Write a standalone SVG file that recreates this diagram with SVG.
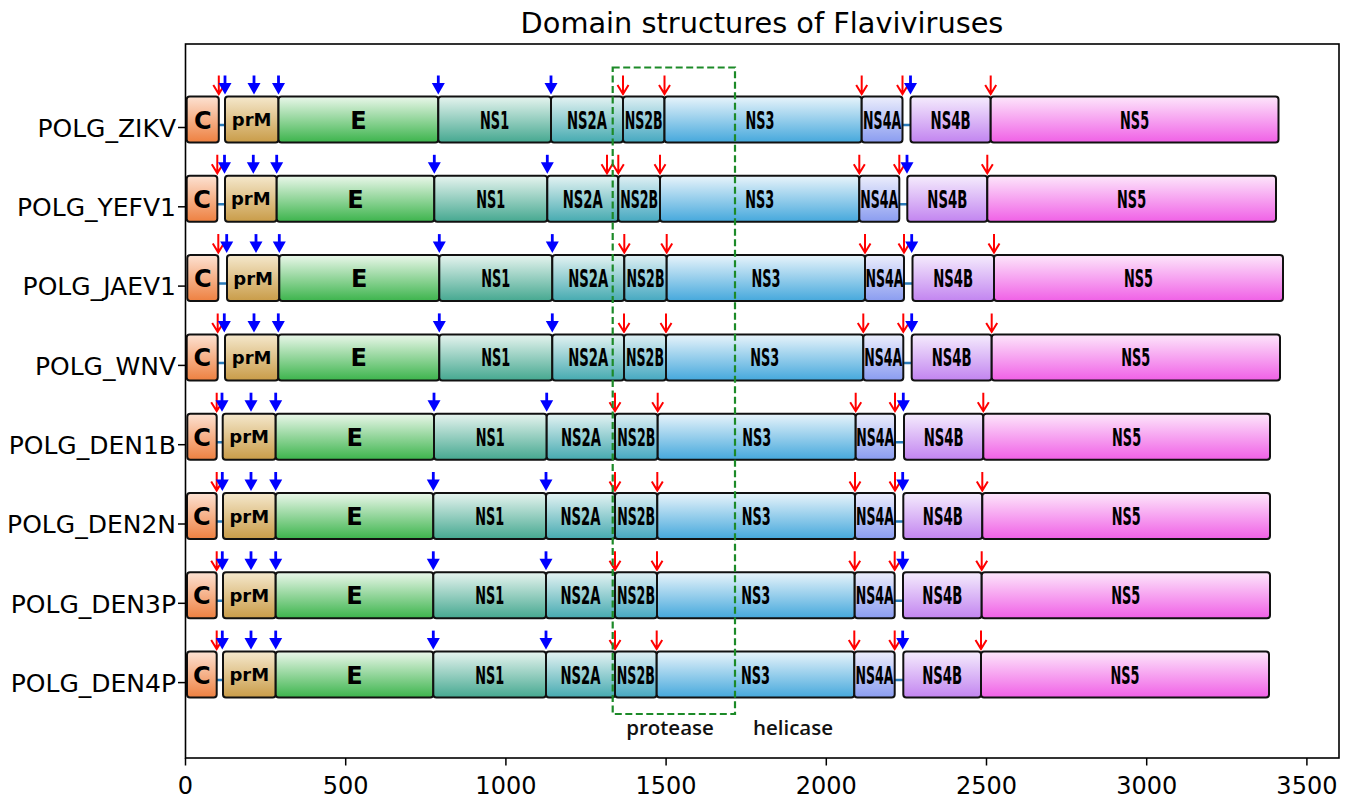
<svg xmlns="http://www.w3.org/2000/svg" xmlns:xlink="http://www.w3.org/1999/xlink" width="1350" height="799" viewBox="0 0 1350 799">
<defs>
<linearGradient id="gC" x1="0" y1="0" x2="0" y2="1"><stop offset="0" stop-color="#fde2d2"/><stop offset="1" stop-color="#ee8040"/></linearGradient>
<linearGradient id="gprM" x1="0" y1="0" x2="0" y2="1"><stop offset="0" stop-color="#f5e8cc"/><stop offset="1" stop-color="#c99c48"/></linearGradient>
<linearGradient id="gE" x1="0" y1="0" x2="0" y2="1"><stop offset="0" stop-color="#eaf7ea"/><stop offset="1" stop-color="#3cb44c"/></linearGradient>
<linearGradient id="gNS1" x1="0" y1="0" x2="0" y2="1"><stop offset="0" stop-color="#e6f4ef"/><stop offset="1" stop-color="#45a890"/></linearGradient>
<linearGradient id="gNS2A" x1="0" y1="0" x2="0" y2="1"><stop offset="0" stop-color="#e4f3f3"/><stop offset="1" stop-color="#45aab0"/></linearGradient>
<linearGradient id="gNS2B" x1="0" y1="0" x2="0" y2="1"><stop offset="0" stop-color="#dff0f4"/><stop offset="1" stop-color="#45a8c0"/></linearGradient>
<linearGradient id="gNS3" x1="0" y1="0" x2="0" y2="1"><stop offset="0" stop-color="#e8f4fb"/><stop offset="1" stop-color="#45a8dc"/></linearGradient>
<linearGradient id="gNS4A" x1="0" y1="0" x2="0" y2="1"><stop offset="0" stop-color="#eceefc"/><stop offset="1" stop-color="#8a9cf0"/></linearGradient>
<linearGradient id="gNS4B" x1="0" y1="0" x2="0" y2="1"><stop offset="0" stop-color="#f5ecfd"/><stop offset="1" stop-color="#c284f0"/></linearGradient>
<linearGradient id="gNS5" x1="0" y1="0" x2="0" y2="1"><stop offset="0" stop-color="#fde6fb"/><stop offset="1" stop-color="#f060e6"/></linearGradient>
<g id="ra"><path d="M0,-19 V-0.5 M-5.5,-9.5 L0,-0.5 L5.5,-9.5" fill="none" stroke="#ff0000" stroke-width="2"/></g>
<g id="ba"><path d="M0,-19 V-9" stroke="#0000ff" stroke-width="2.8"/><polygon points="-6.5,-11.5 6.5,-11.5 0,0" fill="#0000ff"/></g>
</defs>
<style>
.bar{stroke:#111;stroke-width:2}
.cC{fill:url(#gC)}.cprM{fill:url(#gprM)}.cE{fill:url(#gE)}.cNS1{fill:url(#gNS1)}.cNS2A{fill:url(#gNS2A)}.cNS2B{fill:url(#gNS2B)}.cNS3{fill:url(#gNS3)}.cNS4A{fill:url(#gNS4A)}.cNS4B{fill:url(#gNS4B)}.cNS5{fill:url(#gNS5)}
.dl{font-family:"DejaVu Sans",sans-serif;font-weight:bold;font-size:24px;text-anchor:middle;fill:#000}
.dm{font-family:"DejaVu Sans",sans-serif;font-weight:bold;font-size:18px;text-anchor:middle;fill:#000}
.yl{font-family:"DejaVu Sans",sans-serif;font-size:25px;text-anchor:end;fill:#000}
.xl{font-family:"DejaVu Sans",sans-serif;font-size:24px;text-anchor:middle;fill:#000}
.tk{stroke:#000;stroke-width:1.5}
.pl{stroke:#2a7ab8;stroke-width:2.5}
.an{font-family:"Open Sans",sans-serif;font-weight:600;font-size:20.5px;text-anchor:middle;fill:#111}
</style>
<rect x="0" y="0" width="1350" height="799" fill="#fff"/>
<text x="762" y="33" style="font-family:'DejaVu Sans',sans-serif;font-size:28.8px;text-anchor:middle">Domain structures of Flaviviruses</text>

<g id="connectors">
<line class="pl" x1="187" y1="125" x2="1278" y2="125"/>
<line class="pl" x1="187" y1="204.3" x2="1276" y2="204.3"/>
<line class="pl" x1="187" y1="283.6" x2="1283" y2="283.6"/>
<line class="pl" x1="187" y1="362.9" x2="1280" y2="362.9"/>
<line class="pl" x1="187" y1="442.2" x2="1270" y2="442.2"/>
<line class="pl" x1="187" y1="521.5" x2="1270" y2="521.5"/>
<line class="pl" x1="187" y1="600.8" x2="1270" y2="600.8"/>
<line class="pl" x1="187" y1="680.1" x2="1269" y2="680.1"/>
</g>

<g id="row-ZIKV" transform="translate(0,119.5)">
<g id="ZIKV-C"><rect class="bar cC" x="186.7" y="-23" width="32.1" height="46" rx="3"/><text class="dl" x="202.7" y="9">C</text></g>
<g id="ZIKV-prM"><rect class="bar cprM" x="225" y="-23" width="53.5" height="46" rx="3"/><text class="dm" x="251.7" y="6.5">prM</text></g>
<g id="ZIKV-E"><rect class="bar cE" x="278.5" y="-23" width="159.8" height="46" rx="3"/><text class="dl" x="358.4" y="9">E</text></g>
<g id="ZIKV-NS1"><rect class="bar cNS1" x="438.3" y="-23" width="112.7" height="46" rx="3"/><text class="dl" x="494.6" y="9" textLength="29" lengthAdjust="spacingAndGlyphs">NS1</text></g>
<g id="ZIKV-NS2A"><rect class="bar cNS2A" x="551" y="-23" width="72" height="46" rx="3"/><text class="dl" x="587" y="9" textLength="40" lengthAdjust="spacingAndGlyphs">NS2A</text></g>
<g id="ZIKV-NS2B"><rect class="bar cNS2B" x="623" y="-23" width="41.5" height="46" rx="3"/><text class="dl" x="643.7" y="9" textLength="38" lengthAdjust="spacingAndGlyphs">NS2B</text></g>
<g id="ZIKV-NS3"><rect class="bar cNS3" x="664.5" y="-23" width="197.2" height="46" rx="3"/><text class="dl" x="760" y="9" textLength="29" lengthAdjust="spacingAndGlyphs">NS3</text></g>
<g id="ZIKV-NS4A"><rect class="bar cNS4A" x="861.7" y="-23" width="40.8" height="46" rx="3"/><text class="dl" x="882.1" y="9" textLength="38" lengthAdjust="spacingAndGlyphs">NS4A</text></g>
<g id="ZIKV-NS4B"><rect class="bar cNS4B" x="910.5" y="-23" width="80.2" height="46" rx="3"/><text class="dl" x="950.6" y="9" textLength="40" lengthAdjust="spacingAndGlyphs">NS4B</text></g>
<g id="ZIKV-NS5"><rect class="bar cNS5" x="990.7" y="-23" width="287.8" height="46" rx="3"/><text class="dl" x="1134.6" y="9" textLength="29" lengthAdjust="spacingAndGlyphs">NS5</text></g>
<use href="#ra" x="218.8" y="-25"/><use href="#ra" x="623" y="-25"/><use href="#ra" x="664.5" y="-25"/><use href="#ra" x="861.7" y="-25"/><use href="#ra" x="902.5" y="-25"/><use href="#ra" x="990.7" y="-25"/>
<use href="#ba" x="225" y="-25"/><use href="#ba" x="254" y="-25"/><use href="#ba" x="278.5" y="-25"/><use href="#ba" x="438.3" y="-25"/><use href="#ba" x="551" y="-25"/><use href="#ba" x="910.5" y="-25"/>
</g>

<g id="row-YEFV1" transform="translate(0,198.8)">
<g id="YEFV1-C"><rect class="bar cC" x="186.7" y="-23" width="30.6" height="46" rx="3"/><text class="dl" x="202" y="9">C</text></g>
<g id="YEFV1-prM"><rect class="bar cprM" x="225" y="-23" width="51.7" height="46" rx="3"/><text class="dm" x="250.8" y="6.5">prM</text></g>
<g id="YEFV1-E"><rect class="bar cE" x="276.7" y="-23" width="157.6" height="46" rx="3"/><text class="dl" x="355.5" y="9">E</text></g>
<g id="YEFV1-NS1"><rect class="bar cNS1" x="434.3" y="-23" width="113" height="46" rx="3"/><text class="dl" x="490.8" y="9" textLength="29" lengthAdjust="spacingAndGlyphs">NS1</text></g>
<g id="YEFV1-NS2A"><rect class="bar cNS2A" x="547.3" y="-23" width="71" height="46" rx="3"/><text class="dl" x="582.8" y="9" textLength="40" lengthAdjust="spacingAndGlyphs">NS2A</text></g>
<g id="YEFV1-NS2B"><rect class="bar cNS2B" x="618.3" y="-23" width="41.7" height="46" rx="3"/><text class="dl" x="639.2" y="9" textLength="38" lengthAdjust="spacingAndGlyphs">NS2B</text></g>
<g id="YEFV1-NS3"><rect class="bar cNS3" x="660" y="-23" width="199.3" height="46" rx="3"/><text class="dl" x="759.7" y="9" textLength="29" lengthAdjust="spacingAndGlyphs">NS3</text></g>
<g id="YEFV1-NS4A"><rect class="bar cNS4A" x="859.3" y="-23" width="40" height="46" rx="3"/><text class="dl" x="879.3" y="9" textLength="38" lengthAdjust="spacingAndGlyphs">NS4A</text></g>
<g id="YEFV1-NS4B"><rect class="bar cNS4B" x="907.3" y="-23" width="80" height="46" rx="3"/><text class="dl" x="947.3" y="9" textLength="40" lengthAdjust="spacingAndGlyphs">NS4B</text></g>
<g id="YEFV1-NS5"><rect class="bar cNS5" x="987.3" y="-23" width="288.7" height="46" rx="3"/><text class="dl" x="1131.6" y="9" textLength="29" lengthAdjust="spacingAndGlyphs">NS5</text></g>
<use href="#ra" x="217.3" y="-25"/><use href="#ra" x="607" y="-25"/><use href="#ra" x="618.3" y="-25"/><use href="#ra" x="660" y="-25"/><use href="#ra" x="859.3" y="-25"/><use href="#ra" x="899.3" y="-25"/><use href="#ra" x="987.3" y="-25"/>
<use href="#ba" x="224.5" y="-25"/><use href="#ba" x="253.3" y="-25"/><use href="#ba" x="276.7" y="-25"/><use href="#ba" x="434.3" y="-25"/><use href="#ba" x="547.3" y="-25"/><use href="#ba" x="907" y="-25"/>
</g>

<g id="row-JAEV1" transform="translate(0,278.1)">
<g id="JAEV1-C"><rect class="bar cC" x="187.3" y="-23" width="31" height="46" rx="3"/><text class="dl" x="202.8" y="9">C</text></g>
<g id="JAEV1-prM"><rect class="bar cprM" x="227" y="-23" width="52.3" height="46" rx="3"/><text class="dm" x="253.2" y="6.5">prM</text></g>
<g id="JAEV1-E"><rect class="bar cE" x="279.3" y="-23" width="160" height="46" rx="3"/><text class="dl" x="359.3" y="9">E</text></g>
<g id="JAEV1-NS1"><rect class="bar cNS1" x="439.3" y="-23" width="113" height="46" rx="3"/><text class="dl" x="495.8" y="9" textLength="29" lengthAdjust="spacingAndGlyphs">NS1</text></g>
<g id="JAEV1-NS2A"><rect class="bar cNS2A" x="552.3" y="-23" width="72" height="46" rx="3"/><text class="dl" x="588.3" y="9" textLength="40" lengthAdjust="spacingAndGlyphs">NS2A</text></g>
<g id="JAEV1-NS2B"><rect class="bar cNS2B" x="624.3" y="-23" width="42.4" height="46" rx="3"/><text class="dl" x="645.5" y="9" textLength="38" lengthAdjust="spacingAndGlyphs">NS2B</text></g>
<g id="JAEV1-NS3"><rect class="bar cNS3" x="666.7" y="-23" width="198.3" height="46" rx="3"/><text class="dl" x="766" y="9" textLength="29" lengthAdjust="spacingAndGlyphs">NS3</text></g>
<g id="JAEV1-NS4A"><rect class="bar cNS4A" x="865" y="-23" width="39" height="46" rx="3"/><text class="dl" x="884.5" y="9" textLength="38" lengthAdjust="spacingAndGlyphs">NS4A</text></g>
<g id="JAEV1-NS4B"><rect class="bar cNS4B" x="912.5" y="-23" width="81.5" height="46" rx="3"/><text class="dl" x="953.2" y="9" textLength="40" lengthAdjust="spacingAndGlyphs">NS4B</text></g>
<g id="JAEV1-NS5"><rect class="bar cNS5" x="994" y="-23" width="289" height="46" rx="3"/><text class="dl" x="1138.5" y="9" textLength="29" lengthAdjust="spacingAndGlyphs">NS5</text></g>
<use href="#ra" x="218.3" y="-25"/><use href="#ra" x="624.3" y="-25"/><use href="#ra" x="666.7" y="-25"/><use href="#ra" x="865" y="-25"/><use href="#ra" x="904" y="-25"/><use href="#ra" x="994" y="-25"/>
<use href="#ba" x="226.7" y="-25"/><use href="#ba" x="256" y="-25"/><use href="#ba" x="279.3" y="-25"/><use href="#ba" x="439.3" y="-25"/><use href="#ba" x="552.3" y="-25"/><use href="#ba" x="911.7" y="-25"/>
</g>

<g id="row-WNV" transform="translate(0,357.4)">
<g id="WNV-C"><rect class="bar cC" x="186.7" y="-23" width="31" height="46" rx="3"/><text class="dl" x="202.2" y="9">C</text></g>
<g id="WNV-prM"><rect class="bar cprM" x="225" y="-23" width="53.3" height="46" rx="3"/><text class="dm" x="251.7" y="6.5">prM</text></g>
<g id="WNV-E"><rect class="bar cE" x="278.3" y="-23" width="161" height="46" rx="3"/><text class="dl" x="358.8" y="9">E</text></g>
<g id="WNV-NS1"><rect class="bar cNS1" x="439.3" y="-23" width="113" height="46" rx="3"/><text class="dl" x="495.8" y="9" textLength="29" lengthAdjust="spacingAndGlyphs">NS1</text></g>
<g id="WNV-NS2A"><rect class="bar cNS2A" x="552.3" y="-23" width="71.7" height="46" rx="3"/><text class="dl" x="588.2" y="9" textLength="40" lengthAdjust="spacingAndGlyphs">NS2A</text></g>
<g id="WNV-NS2B"><rect class="bar cNS2B" x="624" y="-23" width="42" height="46" rx="3"/><text class="dl" x="645" y="9" textLength="38" lengthAdjust="spacingAndGlyphs">NS2B</text></g>
<g id="WNV-NS3"><rect class="bar cNS3" x="666" y="-23" width="197.3" height="46" rx="3"/><text class="dl" x="764.7" y="9" textLength="29" lengthAdjust="spacingAndGlyphs">NS3</text></g>
<g id="WNV-NS4A"><rect class="bar cNS4A" x="863.3" y="-23" width="40" height="46" rx="3"/><text class="dl" x="883.3" y="9" textLength="38" lengthAdjust="spacingAndGlyphs">NS4A</text></g>
<g id="WNV-NS4B"><rect class="bar cNS4B" x="911.7" y="-23" width="80" height="46" rx="3"/><text class="dl" x="951.7" y="9" textLength="40" lengthAdjust="spacingAndGlyphs">NS4B</text></g>
<g id="WNV-NS5"><rect class="bar cNS5" x="991.7" y="-23" width="288.3" height="46" rx="3"/><text class="dl" x="1135.8" y="9" textLength="29" lengthAdjust="spacingAndGlyphs">NS5</text></g>
<use href="#ra" x="217.7" y="-25"/><use href="#ra" x="624" y="-25"/><use href="#ra" x="666" y="-25"/><use href="#ra" x="863.3" y="-25"/><use href="#ra" x="903.3" y="-25"/><use href="#ra" x="991.7" y="-25"/>
<use href="#ba" x="224.3" y="-25"/><use href="#ba" x="254" y="-25"/><use href="#ba" x="278.3" y="-25"/><use href="#ba" x="439.3" y="-25"/><use href="#ba" x="552.3" y="-25"/><use href="#ba" x="911.7" y="-25"/>
</g>

<g id="row-DEN1B" transform="translate(0,436.7)">
<g id="DEN1B-C"><rect class="bar cC" x="187.3" y="-23" width="29.4" height="46" rx="3"/><text class="dl" x="202" y="9">C</text></g>
<g id="DEN1B-prM"><rect class="bar cprM" x="222.7" y="-23" width="53" height="46" rx="3"/><text class="dm" x="249.2" y="6.5">prM</text></g>
<g id="DEN1B-E"><rect class="bar cE" x="275.7" y="-23" width="158.3" height="46" rx="3"/><text class="dl" x="354.8" y="9">E</text></g>
<g id="DEN1B-NS1"><rect class="bar cNS1" x="434" y="-23" width="112.7" height="46" rx="3"/><text class="dl" x="490.3" y="9" textLength="29" lengthAdjust="spacingAndGlyphs">NS1</text></g>
<g id="DEN1B-NS2A"><rect class="bar cNS2A" x="546.7" y="-23" width="68.3" height="46" rx="3"/><text class="dl" x="581" y="9" textLength="40" lengthAdjust="spacingAndGlyphs">NS2A</text></g>
<g id="DEN1B-NS2B"><rect class="bar cNS2B" x="615" y="-23" width="42.7" height="46" rx="3"/><text class="dl" x="636.3" y="9" textLength="38" lengthAdjust="spacingAndGlyphs">NS2B</text></g>
<g id="DEN1B-NS3"><rect class="bar cNS3" x="657.7" y="-23" width="198" height="46" rx="3"/><text class="dl" x="756.7" y="9" textLength="29" lengthAdjust="spacingAndGlyphs">NS3</text></g>
<g id="DEN1B-NS4A"><rect class="bar cNS4A" x="855.7" y="-23" width="39.3" height="46" rx="3"/><text class="dl" x="875.3" y="9" textLength="38" lengthAdjust="spacingAndGlyphs">NS4A</text></g>
<g id="DEN1B-NS4B"><rect class="bar cNS4B" x="904" y="-23" width="79.3" height="46" rx="3"/><text class="dl" x="943.7" y="9" textLength="40" lengthAdjust="spacingAndGlyphs">NS4B</text></g>
<g id="DEN1B-NS5"><rect class="bar cNS5" x="983.3" y="-23" width="286.7" height="46" rx="3"/><text class="dl" x="1126.6" y="9" textLength="29" lengthAdjust="spacingAndGlyphs">NS5</text></g>
<use href="#ra" x="216.7" y="-25"/><use href="#ra" x="615" y="-25"/><use href="#ra" x="657.7" y="-25"/><use href="#ra" x="855.7" y="-25"/><use href="#ra" x="895" y="-25"/><use href="#ra" x="983.3" y="-25"/>
<use href="#ba" x="222" y="-25"/><use href="#ba" x="251" y="-25"/><use href="#ba" x="275.7" y="-25"/><use href="#ba" x="434" y="-25"/><use href="#ba" x="546.7" y="-25"/><use href="#ba" x="903.3" y="-25"/>
</g>

<g id="row-DEN2N" transform="translate(0,516)">
<g id="DEN2N-C"><rect class="bar cC" x="187" y="-23" width="29.7" height="46" rx="3"/><text class="dl" x="201.8" y="9">C</text></g>
<g id="DEN2N-prM"><rect class="bar cprM" x="223" y="-23" width="52.7" height="46" rx="3"/><text class="dm" x="249.3" y="6.5">prM</text></g>
<g id="DEN2N-E"><rect class="bar cE" x="275.7" y="-23" width="157.6" height="46" rx="3"/><text class="dl" x="354.5" y="9">E</text></g>
<g id="DEN2N-NS1"><rect class="bar cNS1" x="433.3" y="-23" width="112.7" height="46" rx="3"/><text class="dl" x="489.7" y="9" textLength="29" lengthAdjust="spacingAndGlyphs">NS1</text></g>
<g id="DEN2N-NS2A"><rect class="bar cNS2A" x="546" y="-23" width="69" height="46" rx="3"/><text class="dl" x="580.5" y="9" textLength="40" lengthAdjust="spacingAndGlyphs">NS2A</text></g>
<g id="DEN2N-NS2B"><rect class="bar cNS2B" x="615" y="-23" width="42.3" height="46" rx="3"/><text class="dl" x="636.2" y="9" textLength="38" lengthAdjust="spacingAndGlyphs">NS2B</text></g>
<g id="DEN2N-NS3"><rect class="bar cNS3" x="657.3" y="-23" width="197.7" height="46" rx="3"/><text class="dl" x="756.2" y="9" textLength="29" lengthAdjust="spacingAndGlyphs">NS3</text></g>
<g id="DEN2N-NS4A"><rect class="bar cNS4A" x="855" y="-23" width="40" height="46" rx="3"/><text class="dl" x="875" y="9" textLength="38" lengthAdjust="spacingAndGlyphs">NS4A</text></g>
<g id="DEN2N-NS4B"><rect class="bar cNS4B" x="903.3" y="-23" width="79" height="46" rx="3"/><text class="dl" x="942.8" y="9" textLength="40" lengthAdjust="spacingAndGlyphs">NS4B</text></g>
<g id="DEN2N-NS5"><rect class="bar cNS5" x="982.3" y="-23" width="287.7" height="46" rx="3"/><text class="dl" x="1126.2" y="9" textLength="29" lengthAdjust="spacingAndGlyphs">NS5</text></g>
<use href="#ra" x="216.7" y="-25"/><use href="#ra" x="615" y="-25"/><use href="#ra" x="657.3" y="-25"/><use href="#ra" x="855" y="-25"/><use href="#ra" x="895" y="-25"/><use href="#ra" x="982.3" y="-25"/>
<use href="#ba" x="222.3" y="-25"/><use href="#ba" x="251" y="-25"/><use href="#ba" x="275.7" y="-25"/><use href="#ba" x="433.3" y="-25"/><use href="#ba" x="546" y="-25"/><use href="#ba" x="902.7" y="-25"/>
</g>

<g id="row-DEN3P" transform="translate(0,595.3)">
<g id="DEN3P-C"><rect class="bar cC" x="187" y="-23" width="29.7" height="46" rx="3"/><text class="dl" x="201.8" y="9">C</text></g>
<g id="DEN3P-prM"><rect class="bar cprM" x="223" y="-23" width="52.7" height="46" rx="3"/><text class="dm" x="249.3" y="6.5">prM</text></g>
<g id="DEN3P-E"><rect class="bar cE" x="275.7" y="-23" width="157.6" height="46" rx="3"/><text class="dl" x="354.5" y="9">E</text></g>
<g id="DEN3P-NS1"><rect class="bar cNS1" x="433.3" y="-23" width="112.7" height="46" rx="3"/><text class="dl" x="489.7" y="9" textLength="29" lengthAdjust="spacingAndGlyphs">NS1</text></g>
<g id="DEN3P-NS2A"><rect class="bar cNS2A" x="546" y="-23" width="69" height="46" rx="3"/><text class="dl" x="580.5" y="9" textLength="40" lengthAdjust="spacingAndGlyphs">NS2A</text></g>
<g id="DEN3P-NS2B"><rect class="bar cNS2B" x="615" y="-23" width="42" height="46" rx="3"/><text class="dl" x="636" y="9" textLength="38" lengthAdjust="spacingAndGlyphs">NS2B</text></g>
<g id="DEN3P-NS3"><rect class="bar cNS3" x="657" y="-23" width="197.7" height="46" rx="3"/><text class="dl" x="755.8" y="9" textLength="29" lengthAdjust="spacingAndGlyphs">NS3</text></g>
<g id="DEN3P-NS4A"><rect class="bar cNS4A" x="854.7" y="-23" width="40" height="46" rx="3"/><text class="dl" x="874.7" y="9" textLength="38" lengthAdjust="spacingAndGlyphs">NS4A</text></g>
<g id="DEN3P-NS4B"><rect class="bar cNS4B" x="903" y="-23" width="78.7" height="46" rx="3"/><text class="dl" x="942.3" y="9" textLength="40" lengthAdjust="spacingAndGlyphs">NS4B</text></g>
<g id="DEN3P-NS5"><rect class="bar cNS5" x="981.7" y="-23" width="288.3" height="46" rx="3"/><text class="dl" x="1125.8" y="9" textLength="29" lengthAdjust="spacingAndGlyphs">NS5</text></g>
<use href="#ra" x="216.7" y="-25"/><use href="#ra" x="615" y="-25"/><use href="#ra" x="657" y="-25"/><use href="#ra" x="854.7" y="-25"/><use href="#ra" x="894.7" y="-25"/><use href="#ra" x="981.7" y="-25"/>
<use href="#ba" x="222.3" y="-25"/><use href="#ba" x="251" y="-25"/><use href="#ba" x="275.7" y="-25"/><use href="#ba" x="433.3" y="-25"/><use href="#ba" x="546" y="-25"/><use href="#ba" x="902.7" y="-25"/>
</g>

<g id="row-DEN4P" transform="translate(0,674.6)">
<g id="DEN4P-C"><rect class="bar cC" x="187" y="-23" width="29.7" height="46" rx="3"/><text class="dl" x="201.8" y="9">C</text></g>
<g id="DEN4P-prM"><rect class="bar cprM" x="223" y="-23" width="52.7" height="46" rx="3"/><text class="dm" x="249.3" y="6.5">prM</text></g>
<g id="DEN4P-E"><rect class="bar cE" x="275.7" y="-23" width="157.6" height="46" rx="3"/><text class="dl" x="354.5" y="9">E</text></g>
<g id="DEN4P-NS1"><rect class="bar cNS1" x="433.3" y="-23" width="112.7" height="46" rx="3"/><text class="dl" x="489.7" y="9" textLength="29" lengthAdjust="spacingAndGlyphs">NS1</text></g>
<g id="DEN4P-NS2A"><rect class="bar cNS2A" x="546" y="-23" width="69" height="46" rx="3"/><text class="dl" x="580.5" y="9" textLength="40" lengthAdjust="spacingAndGlyphs">NS2A</text></g>
<g id="DEN4P-NS2B"><rect class="bar cNS2B" x="615" y="-23" width="41.7" height="46" rx="3"/><text class="dl" x="635.8" y="9" textLength="38" lengthAdjust="spacingAndGlyphs">NS2B</text></g>
<g id="DEN4P-NS3"><rect class="bar cNS3" x="656.7" y="-23" width="197.6" height="46" rx="3"/><text class="dl" x="755.5" y="9" textLength="29" lengthAdjust="spacingAndGlyphs">NS3</text></g>
<g id="DEN4P-NS4A"><rect class="bar cNS4A" x="854.3" y="-23" width="40.4" height="46" rx="3"/><text class="dl" x="874.5" y="9" textLength="38" lengthAdjust="spacingAndGlyphs">NS4A</text></g>
<g id="DEN4P-NS4B"><rect class="bar cNS4B" x="903.3" y="-23" width="77.7" height="46" rx="3"/><text class="dl" x="942.2" y="9" textLength="40" lengthAdjust="spacingAndGlyphs">NS4B</text></g>
<g id="DEN4P-NS5"><rect class="bar cNS5" x="981" y="-23" width="288" height="46" rx="3"/><text class="dl" x="1125" y="9" textLength="29" lengthAdjust="spacingAndGlyphs">NS5</text></g>
<use href="#ra" x="216.7" y="-25"/><use href="#ra" x="615" y="-25"/><use href="#ra" x="656.7" y="-25"/><use href="#ra" x="854.3" y="-25"/><use href="#ra" x="894.7" y="-25"/><use href="#ra" x="981" y="-25"/>
<use href="#ba" x="222.3" y="-25"/><use href="#ba" x="251" y="-25"/><use href="#ba" x="275.7" y="-25"/><use href="#ba" x="433.3" y="-25"/><use href="#ba" x="546" y="-25"/><use href="#ba" x="902.7" y="-25"/>
</g>

<g id="highlight">
<rect x="612.7" y="67.5" width="122.3" height="646.5" fill="none" stroke="#1c8a28" stroke-width="2.2" stroke-dasharray="7,3.5"/>
<text class="an" x="670" y="735">protease</text>
<text class="an" x="793" y="735">helicase</text>
</g>

<g id="axes">
<rect x="185.5" y="44" width="1153.5" height="714" fill="none" stroke="#000" stroke-width="1.6"/>
<line class="tk" x1="178" y1="127.5" x2="185.5" y2="127.5"/>
<line class="tk" x1="178" y1="206.8" x2="185.5" y2="206.8"/>
<line class="tk" x1="178" y1="286.1" x2="185.5" y2="286.1"/>
<line class="tk" x1="178" y1="365.4" x2="185.5" y2="365.4"/>
<line class="tk" x1="178" y1="444.7" x2="185.5" y2="444.7"/>
<line class="tk" x1="178" y1="524" x2="185.5" y2="524"/>
<line class="tk" x1="178" y1="603.3" x2="185.5" y2="603.3"/>
<line class="tk" x1="178" y1="682.6" x2="185.5" y2="682.6"/>
<text class="yl" x="176" y="136.8">POLG_ZIKV</text>
<text class="yl" x="176" y="216.1">POLG_YEFV1</text>
<text class="yl" x="176" y="295.4">POLG_JAEV1</text>
<text class="yl" x="176" y="374.7">POLG_WNV</text>
<text class="yl" x="176" y="454">POLG_DEN1B</text>
<text class="yl" x="176" y="533.3">POLG_DEN2N</text>
<text class="yl" x="176" y="612.6">POLG_DEN3P</text>
<text class="yl" x="176" y="691.9">POLG_DEN4P</text>
<line class="tk" x1="185.5" y1="758" x2="185.5" y2="765.5"/>
<line class="tk" x1="345.7" y1="758" x2="345.7" y2="765.5"/>
<line class="tk" x1="505.9" y1="758" x2="505.9" y2="765.5"/>
<line class="tk" x1="666.1" y1="758" x2="666.1" y2="765.5"/>
<line class="tk" x1="826.3" y1="758" x2="826.3" y2="765.5"/>
<line class="tk" x1="986.5" y1="758" x2="986.5" y2="765.5"/>
<line class="tk" x1="1146.7" y1="758" x2="1146.7" y2="765.5"/>
<line class="tk" x1="1306.9" y1="758" x2="1306.9" y2="765.5"/>
<text class="xl" x="185.5" y="793.5">0</text>
<text class="xl" x="345.7" y="793.5">500</text>
<text class="xl" x="505.9" y="793.5">1000</text>
<text class="xl" x="666.1" y="793.5">1500</text>
<text class="xl" x="826.3" y="793.5">2000</text>
<text class="xl" x="986.5" y="793.5">2500</text>
<text class="xl" x="1146.7" y="793.5">3000</text>
<text class="xl" x="1306.9" y="793.5">3500</text>
</g>
</svg>
